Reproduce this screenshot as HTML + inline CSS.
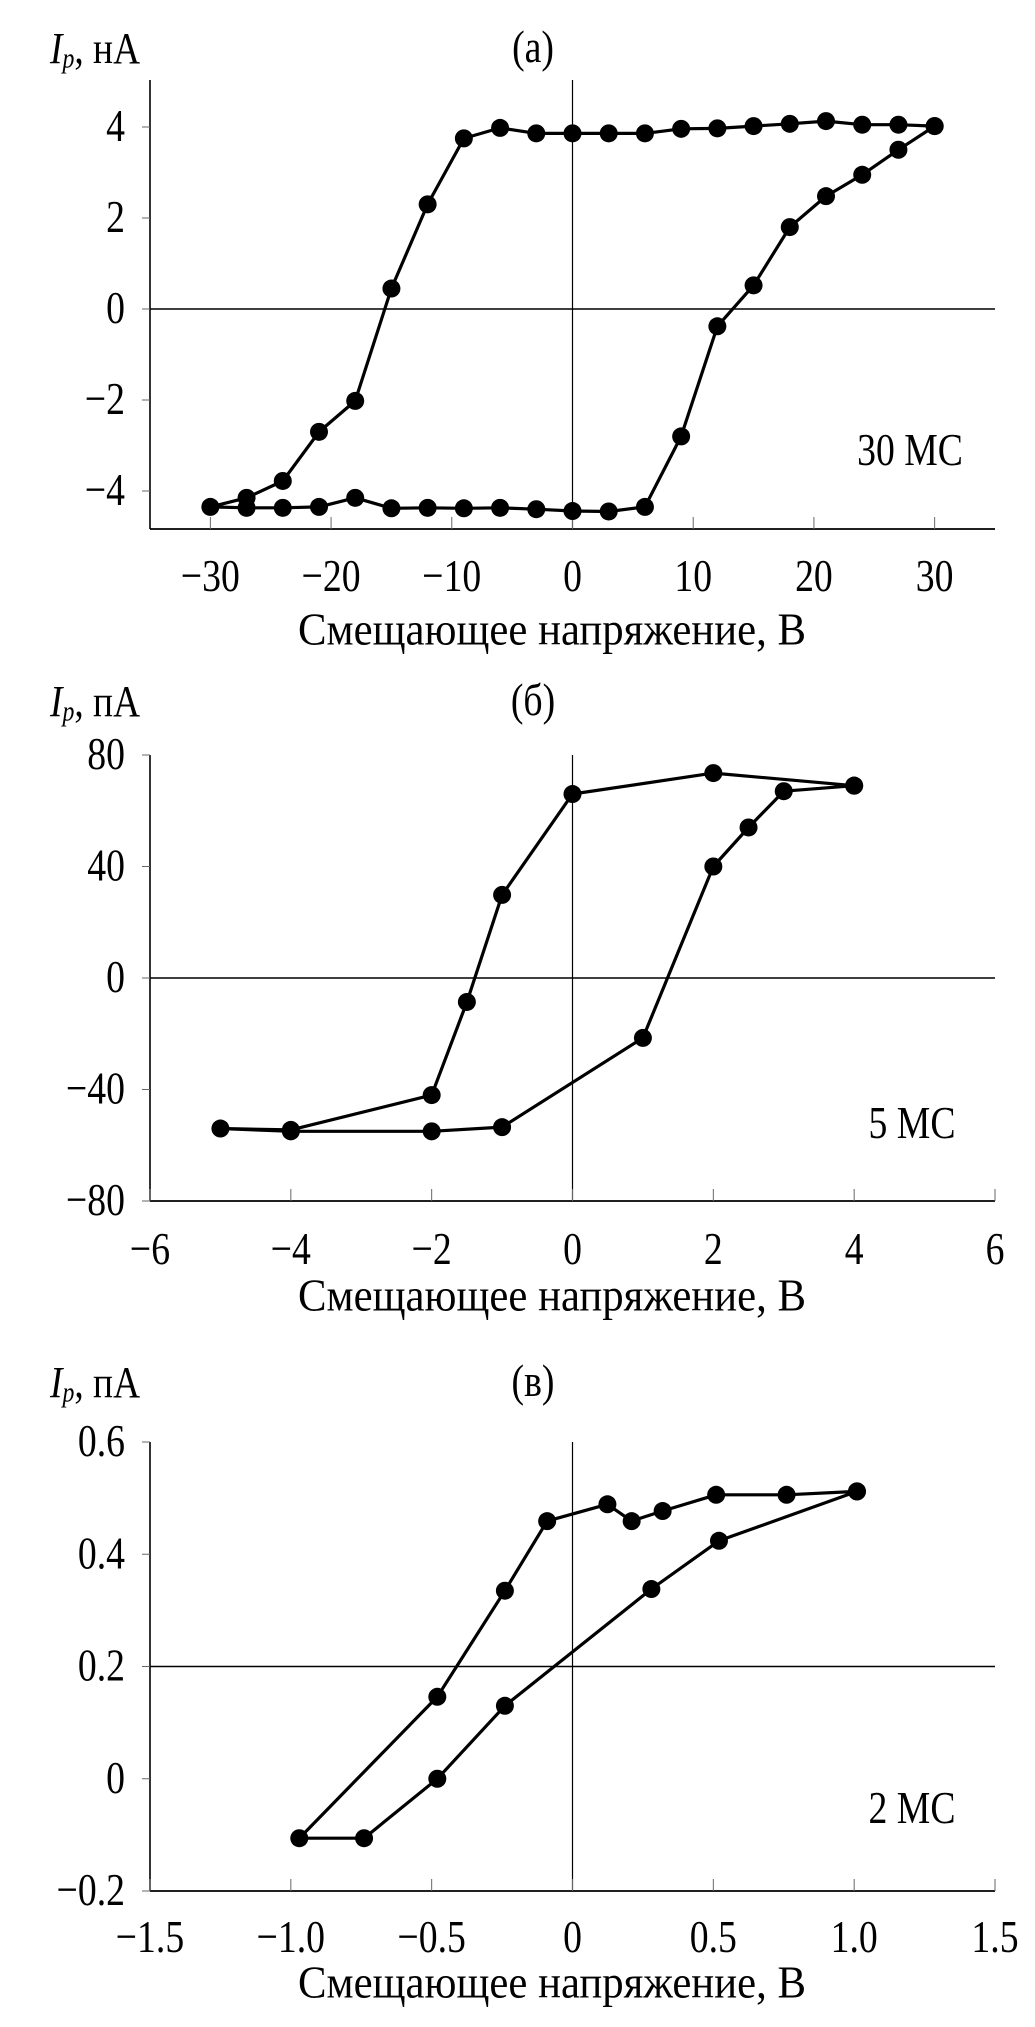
<!DOCTYPE html>
<html><head><meta charset="utf-8"><style>
html,body{margin:0;padding:0;background:#fff}
svg{display:block}
text{font-family:"Liberation Serif",serif;fill:#000}
</style></head><body>
<svg id="fig" width="1035" height="2027" viewBox="0 0 1035 2027" xmlns="http://www.w3.org/2000/svg"></svg>
<script>
// Panel (a)
const aX = [30,27,24,21,18,15,12,9,6,3,0,-3,-6,-9,-12,-15,-18,-21,-24,-27,-30,-27,-24,-21,-18,-15,-12,-9,-6,-3,0,3,6,9,12,15,18,21,24,27,30];
const aY = [4.02,3.5,2.95,2.48,1.8,0.52,-0.38,-2.8,-4.35,-4.45,-4.44,-4.4,-4.37,-4.38,-4.37,-4.38,-4.15,-4.35,-4.37,-4.37,-4.35,-4.15,-3.78,-2.7,-2.02,0.45,2.3,3.75,3.98,3.86,3.86,3.86,3.86,3.96,3.97,4.02,4.07,4.13,4.05,4.05,4.02];
const aXTicks = [-30,-20,-10,0,10,20,30];
const aXTickLabels = ["−30","−20","−10","0","10","20","30"];
const aYTicks = [4,2,0,-2,-4];
const aYTickLabels = ["4","2","0","−2","−4"];
// Panel (б)
const bX = [4,3,2.5,2,1,-1,-2,-4,-5,-4,-2,-1.5,-1,0,2,4];
const bY = [69,67,54,40,-21.5,-53.5,-55,-55,-54,-54.5,-42,-8.6,29.8,66,73.5,69];
const bXTicks = [-6,-4,-2,0,2,4,6];
const bXTickLabels = ["−6","−4","−2","0","2","4","6"];
const bYTicks = [80,40,0,-40,-80];
const bYTickLabels = ["80","40","0","−40","−80"];
// Panel (в)
const cX = [1.01,0.76,0.51,0.32,0.21,0.124,-0.09,-0.24,-0.48,-0.97,-0.74,-0.48,-0.24,0.28,0.52,1.01];
const cY = [0.512,0.506,0.506,0.477,0.459,0.489,0.459,0.335,0.146,-0.106,-0.106,0.0,0.13,0.338,0.424,0.512];
const cXTicks = [-1.5,-1.0,-0.5,0,0.5,1.0,1.5];
const cXTickLabels = ["−1.5","−1.0","−0.5","0","0.5","1.0","1.5"];
const cYTicks = [0.6,0.4,0.2,0,-0.2];
const cYTickLabels = ["0.6","0.4","0.2","0","−0.2"];

const NS="http://www.w3.org/2000/svg";
const svg=document.getElementById('fig');
function mk(tag,attrs,parent){const e=document.createElementNS(NS,tag);for(const k in attrs)e.setAttribute(k,attrs[k]);(parent||svg).appendChild(e);return e;}
function txt(parent,x,y,anchor,size){
  return mk('text',{x:0,y:0,transform:'translate('+x+','+y+') scale(0.82,1)','font-size':size||46,'text-anchor':anchor,'dominant-baseline':'central'},parent);
}

function panel(cfg){
  const g=mk('g',{});
  
  
  const L=150,R=995;
  const sx=v=>L+(v-cfg.xmin)/(cfg.xmax-cfg.xmin)*(R-L);
  const sy=v=>cfg.y0+(cfg.ymax-v)/(cfg.ymax-cfg.ymin)*(cfg.y1-cfg.y0);
  const bottom=cfg.axisBottom;
  const ya=mk('line',{x1:L,y1:cfg.axisTop,x2:L,y2:bottom,stroke:'#000','stroke-width':1.6},g);
  
  
  const xa=mk('line',{x1:L,y1:bottom,x2:R,y2:bottom,stroke:'#000','stroke-width':1.8},g);
  
  
  const vz=mk('line',{x1:sx(0),y1:cfg.axisTop,x2:sx(0),y2:bottom,stroke:'#000','stroke-width':1.2},g);
  
  
  const hz=mk('line',{x1:L,y1:sy(cfg.hline),x2:R,y2:sy(cfg.hline),stroke:'#000','stroke-width':1.6},g);
  
  
  cfg.xt.forEach((v,i)=>{
    const t=mk('line',{x1:sx(v),y1:bottom,x2:sx(v),y2:bottom-12,stroke:'#666','stroke-width':1},g);
    
    
    const tx=txt(g,sx(v),cfg.xlabY,'middle');
    tx.textContent=cfg.xl[i];
    
    
  });
  cfg.yt.forEach((v,i)=>{
    const t=mk('line',{x1:L,y1:sy(v),x2:L-8,y2:sy(v),stroke:'#666','stroke-width':1},g);
    
    
    const tx=txt(g,125,sy(v),'end');
    tx.textContent=cfg.yl[i];
    
    
  });
  const pts=cfg.xs.map((x,i)=>sx(x).toFixed(1)+','+sy(cfg.ys[i]).toFixed(1)).join(' ');
  const pl=mk('polyline',{points:pts,fill:'none',stroke:'#000','stroke-width':3.2,'stroke-linejoin':'round'},g);
  
  
  cfg.xs.forEach((x,i)=>{
    const c=mk('circle',{cx:sx(x),cy:sy(cfg.ys[i]),r:9,fill:'#000'},g);
    
    
  });
  const ti=txt(g,533,cfg.titleY,'middle');
  ti.textContent=cfg.title;
  
  
  const yl=mk('text',{x:0,y:0,transform:'translate(50,'+cfg.titleY+') scale(0.85,1)','font-size':44,'dominant-baseline':'central'},g);
  yl.innerHTML='<tspan font-style="italic">I</tspan><tspan font-style="italic" font-size="28" dy="10">p</tspan><tspan dy="-10">,  '+cfg.unit+'</tspan>';
  
  
  const xl=mk('text',{x:552,y:cfg.xtitleY,'font-size':46,'text-anchor':'middle','dominant-baseline':'central',textLength:508,lengthAdjust:'spacingAndGlyphs'},g);
  xl.textContent='Смещающее напряжение, В';
  
  
  const an=txt(g,cfg.annX,cfg.annY,'middle');
  an.textContent=cfg.ann;
  
  
}

panel({name:'panel-a',xmin:-35,xmax:35,ymax:4,ymin:-4,y0:127,y1:491,axisTop:80,axisBottom:529,hline:0,
  xs:aX,ys:aY,xt:aXTicks,xl:aXTickLabels,yt:aYTicks,yl:aYTickLabels,xlabY:577,xtitleY:629,titleY:48,
  title:'(а)',unit:'нА',ann:'30 МС',annX:910,annY:451});
panel({name:'panel-b',xmin:-6,xmax:6,ymax:80,ymin:-80,y0:755,y1:1201,axisTop:755,axisBottom:1201,hline:0,
  xs:bX,ys:bY,xt:bXTicks,xl:bXTickLabels,yt:bYTicks,yl:bYTickLabels,xlabY:1250,xtitleY:1295,titleY:701,
  title:'(б)',unit:'пА',ann:'5 МС',annX:912,annY:1124});
panel({name:'panel-c',xmin:-1.5,xmax:1.5,ymax:0.6,ymin:-0.2,y0:1442,y1:1891,axisTop:1442,axisBottom:1891,hline:0.2,
  xs:cX,ys:cY,xt:cXTicks,xl:cXTickLabels,yt:cYTicks,yl:cYTickLabels,xlabY:1938,xtitleY:1982,titleY:1382,
  title:'(в)',unit:'пА',ann:'2 МС',annX:912,annY:1809});
</script>
</body></html>
